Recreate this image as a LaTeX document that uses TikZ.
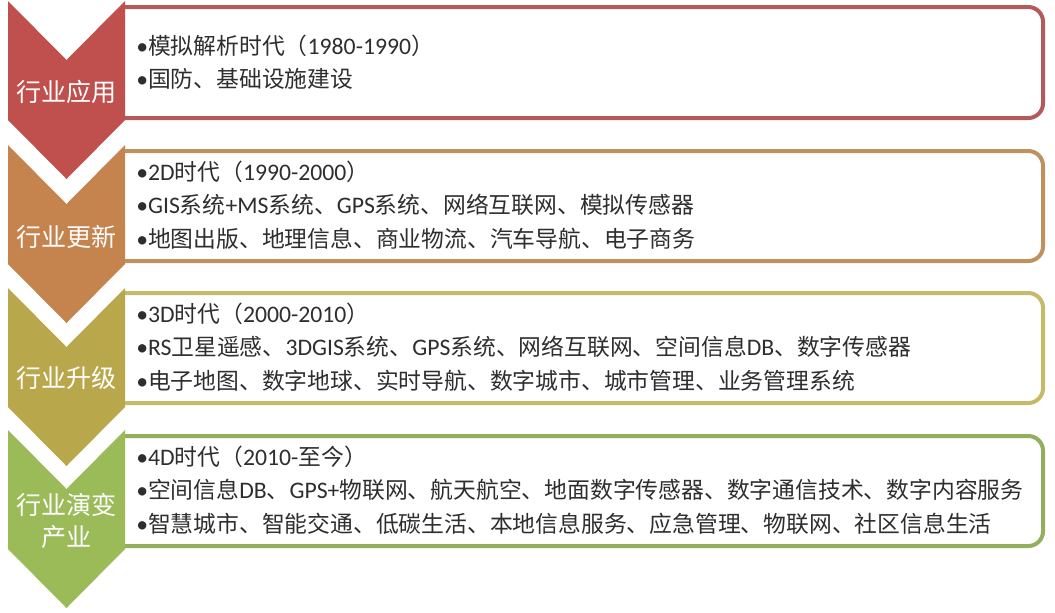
\documentclass[tikz,border=0pt]{standalone}
\usepackage{fontspec}
\setmainfont{Noto Sans CJK SC}
\newfontfamily\lat[Scale=1.04]{Carlito}
\definecolor{redfill}{HTML}{C0504D}
\definecolor{redline}{HTML}{B45A5A}
\definecolor{tanfill}{HTML}{C5834E}
\definecolor{tanline}{HTML}{C0915E}
\definecolor{olivefill}{HTML}{B8A84B}
\definecolor{oliveline}{HTML}{C6BA68}
\definecolor{greenfill}{HTML}{9BBB59}
\definecolor{greenline}{HTML}{93AF5E}
\definecolor{itemtext}{HTML}{2E2E2E}
\tikzset{
  panel/.style={line width=3pt, rounded corners=11pt, fill=white},
  stage/.style={text=white, align=center, inner sep=0pt,
    font=\fontsize{18.8}{24}\selectfont},
  items/.style={anchor=west, inner sep=0pt, align=left, text=itemtext,
    font=\fontsize{17.1}{25}\selectfont},
}
% chevron: #1 top edge, #2 colour
\newcommand{\chevron}[2]{%
  \fill[#2] (8,#1) -- (66.5,#1+59) -- (125,#1) -- (125,#1+119)
    -- (66.5,#1+178) -- (8,#1+119) -- cycle;}
\newcommand{\bul}{{\lat •}}

\begin{document}
\begin{tikzpicture}[x=0.75pt,y=-0.75pt]
\useasboundingbox (0,0) rectangle (1055,612);

\begin{scope}
\clip (124,0) rectangle (1055,612);
\draw[panel, draw=redline] (100,7) rectangle (1043,118);
\draw[panel, draw=tanline] (100,151) rectangle (1043,261);
\draw[panel, draw=oliveline] (100,293) rectangle (1043,403);
\draw[panel, draw=greenline] (100,436) rectangle (1043,546);
\end{scope}

\chevron{1}{redfill}
\chevron{145}{tanfill}
\chevron{288}{olivefill}
\chevron{430}{greenfill}

\node[stage] (s1) at (66.5,92) {行业应用};
\node[stage] (s2) at (66.5,237) {行业更新};
\node[stage] (s3) at (66.5,378) {行业升级};
\node[stage] (s4) at (66.5,521) {行业演变\\产业};

\node[items] (i1) at (136,62.5) {\bul 模拟解析时代（{\lat 1980-1990}）\\
  \bul 国防、基础设施建设};
\node[items] (i2) at (136,205) {\bul{\lat 2D}时代（{\lat 1990-2000}）\\
  \bul{\lat GIS}系统{\lat +MS}系统、{\lat GPS}系统、网络互联网、模拟传感器\\
  \bul 地图出版、地理信息、商业物流、汽车导航、电子商务};
\node[items] (i3) at (136,347) {\bul{\lat 3D}时代（{\lat 2000-2010}）\\
  \bul{\lat RS}卫星遥感、{\lat 3DGIS}系统、{\lat GPS}系统、网络互联网、空间信息{\lat DB}、数字传感器\\
  \bul 电子地图、数字地球、实时导航、数字城市、城市管理、业务管理系统};
\node[items] (i4) at (136,490) {\bul{\lat 4D}时代（{\lat 2010-}至今）\\
  \bul 空间信息{\lat DB}、{\lat GPS+}物联网、航天航空、地面数字传感器、数字通信技术、数字内容服务\\
  \bul 智慧城市、智能交通、低碳生活、本地信息服务、应急管理、物联网、社区信息生活};
\end{tikzpicture}
\end{document}
